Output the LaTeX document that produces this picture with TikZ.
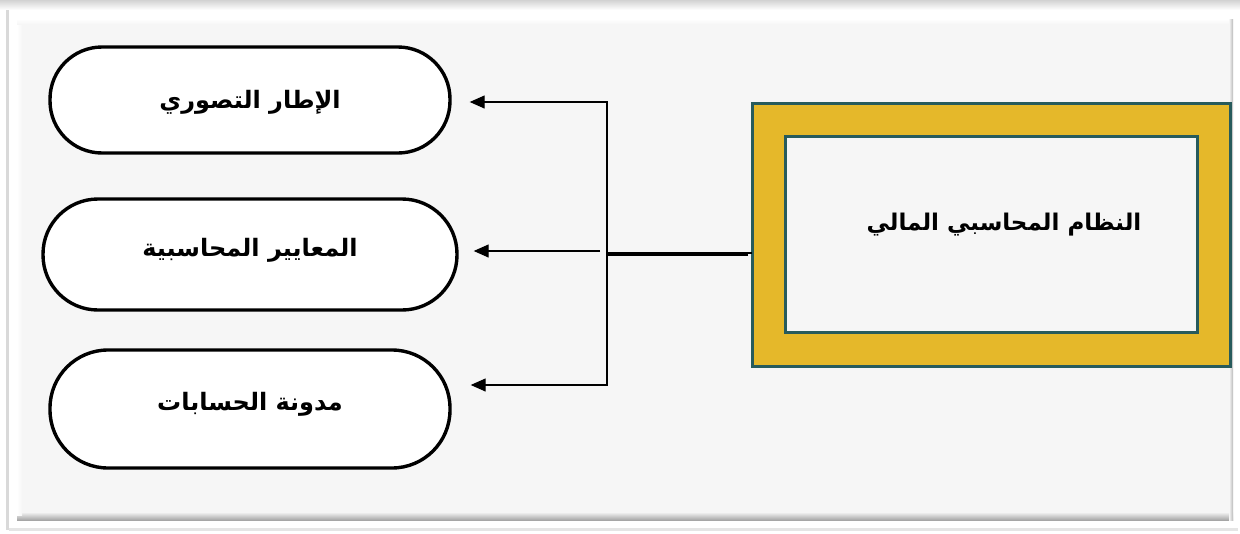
\documentclass[tikz,border=0pt]{standalone}
\usepackage{fontspec}
\usetikzlibrary{arrows.meta,calc}
\TeXXeTstate=1
\newfontfamily\arabicfont[Script=Arabic]{DejaVu Sans}
\definecolor{panel}{HTML}{F6F6F6}
\definecolor{gold}{HTML}{E5B82A}
\definecolor{teal}{HTML}{275B5C}
\tikzset{
  pill/.style={draw=black, line width=3.4pt, fill=white, rounded corners=52pt, minimum width=400pt, minimum height=106pt, inner sep=0pt},
  pilltext/.style={font=\arabicfont\bfseries\fontsize{24}{28}\selectfont},
  conn/.style={draw=black, line width=1.3pt},
  arr/.style={conn, -{Triangle[length=15pt,width=13pt]}}
}
\begin{document}
\begin{tikzpicture}[x=1pt,y=-1pt]
\useasboundingbox (0,0) rectangle (1240,533);
\fill[white] (0,0) rectangle (1240,533);
% top shadow band
\shade[top color=gray!35, bottom color=white] (0,0) rectangle (1240,10);
% card shadow left
\fill[gray!30] (6,10) rectangle (9,530);
\fill[gray!20] (9,528) rectangle (1238,531);
% white card
\fill[white] (9,10) rectangle (1238,528);
% panel with bevel
\fill[panel] (17,19) rectangle (1233,520);
\shade[top color=panel, bottom color=gray!70] (17,512) rectangle (1233,520);
\shade[left color=panel, right color=gray!55] (1229,19) rectangle (1233,520);
\shade[left color=white, right color=panel] (17,19) rectangle (22,515);
\shade[top color=white, bottom color=panel] (17,19) rectangle (1229,24);

% main box
\node[draw=teal, line width=3pt, fill=gold, minimum width=478pt, minimum height=263pt, inner sep=0pt] (mainouter) at (991,234.5) {};
\node[draw=teal, line width=3pt, fill=panel, minimum width=412pt, minimum height=196pt, inner sep=0pt] (main) at (991,234) {};
\node[font=\arabicfont\bfseries\fontsize{23}{28}\selectfont] (maintext) at (1004,225) {\beginR النظام المحاسبي المالي\endR};

% pills
\node[pill] (p1) at (250,100) {};
\node[pilltext] (t1) at (250,102) {\beginR الإطار التصوري\endR};
\node[pill, minimum width=414pt, minimum height=111pt, rounded corners=55pt] (p2) at (250,254.5) {};
\node[pilltext] (t2) at (250,250) {\beginR المعايير المحاسبية\endR};
\node[pill, minimum height=118pt, rounded corners=58pt] (p3) at (250,409) {};
\node[pilltext] (t3) at (250,404) {\beginR مدونة الحسابات\endR};

% connectors
\coordinate (j) at (607,253);
\coordinate (j2) at (600,251);
\coordinate (b) at (752,253);
\draw[conn] (b) -- (j);
\draw[conn] ($(b)+(-4,2)$) -- ($(j)+(0,2)$);
\draw[arr] (j) |- ($(p1.east)+(18,2)$);
\draw[arr] (j) |- ($(p3.east)+(19,-24)$);
\draw[arr] (j2) -- ($(p2.east)+(15,-3.5)$);
\end{tikzpicture}
\end{document}
